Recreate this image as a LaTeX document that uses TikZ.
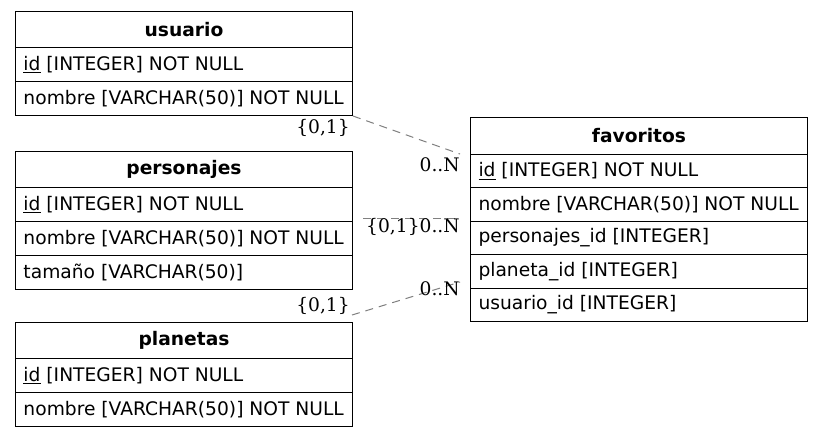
\documentclass[tikz,border=0pt]{standalone}
\usepackage{fontspec}
\setmainfont{DejaVu Sans}
\newfontfamily\cardfont{DejaVu Serif}
\newcommand{\rowtext}[1]{\makebox[240.75pt][l]{#1}}
\begin{document}
\begin{tikzpicture}[x=0.75pt,y=-0.75pt,
  tbl/.style={draw=black, line width=0.75pt, minimum width=252.75pt, inner xsep=6pt, inner ysep=0pt, anchor=north west, font=\fontsize{14}{16}\selectfont},
  hdr/.style={tbl, minimum height=27pt, text width=240.75pt, align=center, font=\fontsize{14}{16}\selectfont\bfseries},
  fhdr/.style={hdr, minimum height=27.75pt},
  row/.style={tbl, minimum height=25.5pt},
  frow/.style={row, minimum height=25.05pt},
  card/.style={font=\cardfont\fontsize{14}{16}\selectfont, inner sep=0pt, anchor=east},
  rel/.style={draw=gray, line width=0.75pt, dash pattern=on 6pt off 4.5pt}]
\useasboundingbox[fill=white] (0,0) rectangle (823,437);
% usuario
\node[hdr] (u) at (15,11) {usuario};
\node[row] (u1) at (15,47) {\rowtext{\underline{id} [INTEGER] NOT NULL}};
\node[row] (u2) at (15,81) {\rowtext{nombre [VARCHAR(50)] NOT NULL}};
% personajes
\node[hdr] (p) at (15,151) {personajes};
\node[row] (p1) at (15,187) {\rowtext{\underline{id} [INTEGER] NOT NULL}};
\node[row] (p2) at (15,221) {\rowtext{nombre [VARCHAR(50)] NOT NULL}};
\node[row] (p3) at (15,255) {\rowtext{tamaño [VARCHAR(50)]}};
% planetas
\node[hdr] (pl) at (15,322) {planetas};
\node[row] (pl1) at (15,358) {\rowtext{\underline{id} [INTEGER] NOT NULL}};
\node[row] (pl2) at (15,392) {\rowtext{nombre [VARCHAR(50)] NOT NULL}};
% favoritos
\node[fhdr] (f) at (470,117) {favoritos};
\node[frow] (f1) at (470,154) {\rowtext{\underline{id} [INTEGER] NOT NULL}};
\node[frow] (f2) at (470,187.4) {\rowtext{nombre [VARCHAR(50)] NOT NULL}};
\node[frow] (f3) at (470,220.8) {\rowtext{personajes\_id [INTEGER]}};
\node[frow] (f4) at (470,254.2) {\rowtext{planeta\_id [INTEGER]}};
\node[frow] (f5) at (470,287.6) {\rowtext{usuario\_id [INTEGER]}};
% connector ends
\coordinate (c1) at (460,154);
\coordinate (m1) at (363,218);
\coordinate (m2) at (460,218);
\coordinate (b1) at (352,315);
\coordinate (b2) at (460,282);
\draw[rel] (u2.south east) -- (c1);
\draw[rel] (m1) -- (m2);
\draw[rel] (b1) -- (b2);
% cardinalities
\node[card] (l1) at (350,128) {\{0,1\}};
\node[card] (l2) at (460,165) {0..N};
\node[card] (l3) at (460,227) {\{0,1\}0..N};
\node[card] (l4) at (460,289) {0..N};
\node[card] (l5) at (350,306) {\{0,1\}};
\end{tikzpicture}
\end{document}
